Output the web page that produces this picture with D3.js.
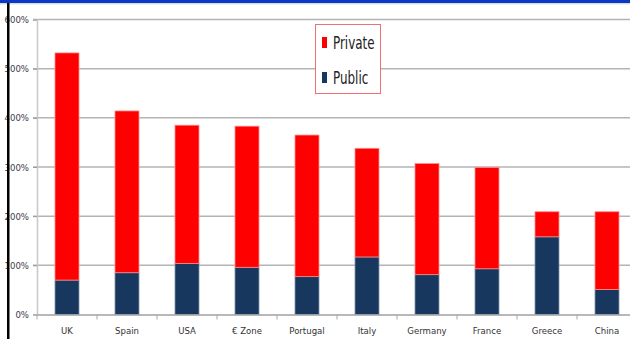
<!DOCTYPE html>
<html>
<head>
<meta charset="utf-8">
<script src="https://cdn.jsdelivr.net/npm/d3@7"></script>
<style>
  html, body { margin: 0; padding: 0; background: #fff; }
  svg { display: block; }
  text { font-family: "Liberation Sans Narrow", "Arial Narrow", "DejaVu Sans Condensed", sans-serif; }
</style>
</head>
<body>
<svg id="chart" width="630" height="339"></svg>
<script>
// Debt by sector, % of GDP
const categories = ["UK", "Spain", "USA", "€ Zone", "Portugal", "Italy", "Germany", "France", "Greece", "China"];
const publicDebt  = [70, 85, 104, 96, 77, 117, 81, 93, 158, 51];
const privateDebt = [462, 329, 281, 287, 288, 221, 226, 206, 51, 158];
const yTicks = [0, 100, 200, 300, 400, 500, 600];
const seriesNames = ["Private", "Public"];
const seriesColors = { Public: "#17375e", Private: "#ff0000" };
const seriesEdges  = { Public: "#7d93ad", Private: "#ff8a8a" };

const rows = categories.map((c, i) => ({ cat: c, Public: publicDebt[i], Private: privateDebt[i] }));

const svg = d3.select("#chart");
const W = 630, H = 339;
const plotLeft = 37, plotRight = 637, plotTop = 19.5, plotBottom = 314.5;

const x = d3.scaleBand().domain(categories).range([plotLeft, plotRight]).paddingInner(0.6).paddingOuter(0.3);
const y = d3.scaleLinear().domain([0, 600]).range([plotBottom, plotTop]);

// horizontal gridlines
svg.append("g")
  .selectAll("line")
  .data(yTicks.filter(t => t > 0))
  .join("line")
  .attr("x1", plotLeft - 4).attr("x2", W)
  .attr("y1", d => y(d)).attr("y2", d => y(d))
  .attr("stroke", "#b4b4b4").attr("stroke-width", 1.5);

// y axis
const yAxis = d3.axisLeft(y).tickValues(yTicks).tickSize(4).tickFormat(d => d + "%");
const gy = svg.append("g").attr("transform", `translate(${plotLeft},0)`).call(yAxis);
gy.select(".domain").attr("stroke", "#c8c8c8").attr("stroke-width", 1.5);
gy.selectAll(".tick line").attr("stroke", "#999");
gy.selectAll(".tick text").attr("x", -8).attr("fill", "#3a3a4a").style("font-size", "9.5px");

// stacked bars
const stack = d3.stack().keys(["Public", "Private"]);
const layers = stack(rows);
svg.append("g")
  .selectAll("g")
  .data(layers)
  .join("g")
  .attr("fill", d => seriesColors[d.key])
  .attr("stroke", d => seriesEdges[d.key])
  .attr("stroke-width", 0.8)
  .selectAll("rect")
  .data(d => d)
  .join("rect")
  .attr("x", d => x(d.data.cat))
  .attr("width", x.bandwidth())
  .attr("y", d => y(d[1]))
  .attr("height", d => y(d[0]) - y(d[1]));

// x axis
const xAxis = d3.axisBottom(x).tickSize(0).tickPadding(13);
const gx = svg.append("g").attr("transform", `translate(0,${plotBottom})`).call(xAxis);
gx.select(".domain").attr("stroke", "#a0a0a0").attr("stroke-width", 1.5);
gx.selectAll(".tick text").attr("fill", "#333").style("font-size", "9.5px");
// category separators below the axis
svg.append("g")
  .selectAll("line")
  .data(d3.range(categories.length + 1))
  .join("line")
  .attr("x1", i => plotLeft + i * x.step()).attr("x2", i => plotLeft + i * x.step())
  .attr("y1", plotBottom).attr("y2", plotBottom + 5)
  .attr("stroke", "#aaa");

// legend
const lg = svg.append("g");
lg.append("rect")
  .attr("x", 315.5).attr("y", 24.5).attr("width", 65).attr("height", 69)
  .attr("fill", "#fff").attr("stroke", "#f07070").attr("stroke-width", 1);
seriesNames.forEach((name, i) => {
  const cy = 42.5 + i * 35;
  lg.append("rect")
    .attr("x", 322).attr("y", cy - 5.5).attr("width", 5).attr("height", 11)
    .attr("fill", seriesColors[name]);
  lg.append("text")
    .attr("transform", `translate(333,${cy + 6}) scale(0.78,1)`)
    .attr("fill", "#222").style("font-size", "17px")
    .text(name);
});

// frame decorations
svg.append("rect").attr("x", 0).attr("y", 0).attr("width", W).attr("height", 3).attr("fill", "#0838c8");
svg.append("line").attr("x1", 0).attr("x2", W).attr("y1", 3.8).attr("y2", 3.8).attr("stroke", "#ccc").attr("stroke-width", 1);
svg.append("rect").attr("x", 7).attr("y", 3).attr("width", 2.5).attr("height", H - 3).attr("fill", "#000");
</script>
</body>
</html>
